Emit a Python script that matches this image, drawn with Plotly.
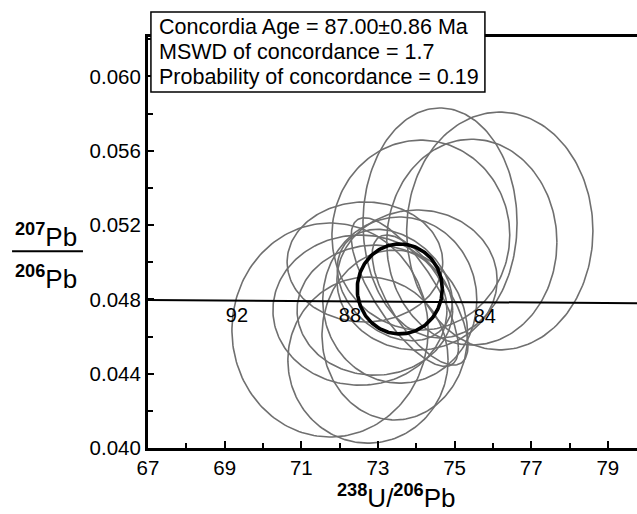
import numpy as np
import plotly.graph_objects as go

# Tera-Wasserburg data: ellipse centres, half-axes and error correlation
ell_x = [76.18, 75.45, 74.62, 74.12, 71.75, 74.02, 72.53, 72.74, 72.66, 72.92,
         73.44, 73.44, 73.70, 74.10, 73.57]
ell_y = [0.05168, 0.05108, 0.05211, 0.05146, 0.04635, 0.04904, 0.04742, 0.04473,
         0.05001, 0.04742, 0.04608, 0.04877, 0.04839, 0.04796, 0.04796]
ell_sx = [2.43, 2.22, 2.01, 2.32, 2.56, 2.09, 2.27, 2.09, 2.03, 2.03,
          1.90, 1.50, 1.40, 1.25, 2.01]
ell_sy = [0.00640, 0.00554, 0.00619, 0.00511, 0.00576, 0.00377, 0.00404, 0.00447,
          0.00323, 0.00350, 0.00457, 0.00300, 0.00400, 0.00350, 0.00447]
ell_rho = [0.0, 0.0, 0.0, 0.0, 0.0, 0.0, 0.0, 0.0, 0.0, 0.0,
           0.0, -0.3, -0.75, -0.7, 0.0]

# Concordia age ellipse
conc_x, conc_y, conc_sx, conc_sy = 73.57, 0.04856, 1.11, 0.00242

# Concordia curve and age labels
curve_x = [67.0, 69.6, 72.7, 76.2, 79.8]
curve_y = [0.04797, 0.04794, 0.04790, 0.04785, 0.04779]
age_labels = ["92", "88", "84"]
age_label_x = [69.32, 72.27, 75.79]
age_label_y = [0.04705, 0.04705, 0.04700]

info_lines = ["Concordia Age = 87.00±0.86 Ma",
              "MSWD of concordance = 1.7",
              "Probability of concordance = 0.19"]

FONT = "Arial, Liberation Sans, sans-serif"
t = np.linspace(0, 2 * np.pi, 200)


def ellipse(cx, cy, sx, sy, rho):
    ex = cx + sx * np.cos(t)
    ey = cy + sy * (rho * np.cos(t) + np.sqrt(1 - rho ** 2) * np.sin(t))
    return ex, ey


fig = go.Figure()
for cx, cy, sx, sy, r in zip(ell_x, ell_y, ell_sx, ell_sy, ell_rho):
    ex, ey = ellipse(cx, cy, sx, sy, r)
    fig.add_trace(go.Scatter(x=ex, y=ey, mode="lines",
                             line=dict(color="#6f6f6f", width=1.6),
                             hoverinfo="skip", showlegend=False))

fig.add_trace(go.Scatter(x=curve_x, y=curve_y, mode="lines",
                         line=dict(color="black", width=2), showlegend=False))

ex, ey = ellipse(conc_x, conc_y, conc_sx, conc_sy, 0.0)
fig.add_trace(go.Scatter(x=ex, y=ey, mode="lines",
                         line=dict(color="black", width=3.6), showlegend=False))

fig.add_trace(go.Scatter(x=age_label_x, y=age_label_y, mode="text", text=age_labels,
                         textfont=dict(family=FONT, size=20, color="black"),
                         showlegend=False))

# Info box
fig.add_shape(type="rect", xref="paper", yref="paper",
              x0=0.006, x1=0.689, y0=0.866, y1=1.061,
              line=dict(color="black", width=1.5), fillcolor="white", layer="above")
for i, s in enumerate(info_lines):
    fig.add_annotation(xref="paper", yref="paper", x=0.0184, y=1.0243 - i * 0.0608,
                       xanchor="left", yanchor="middle", text=s, showarrow=False,
                       font=dict(family=FONT, size=21.5, color="black"))

# Axis titles
fig.add_annotation(xref="paper", yref="paper", x=-0.2086, y=0.517,
                   xanchor="center", yanchor="middle",
                   text="<sup><b>207</b></sup>Pb", showarrow=False,
                   font=dict(family=FONT, size=26, color="black"))
fig.add_annotation(xref="paper", yref="paper", x=-0.2086, y=0.415,
                   xanchor="center", yanchor="middle",
                   text="<sup><b>206</b></sup>Pb", showarrow=False,
                   font=dict(family=FONT, size=26, color="black"))
fig.add_shape(type="line", xref="paper", yref="paper",
              x0=-0.278, x1=-0.133, y0=0.479, y1=0.479,
              line=dict(color="black", width=2))
fig.add_annotation(xref="paper", yref="paper", x=0.509, y=-0.119,
                   xanchor="center", yanchor="middle",
                   text="<sup><b>238</b></sup>U/<sup><b>206</b></sup>Pb", showarrow=False,
                   font=dict(family=FONT, size=26, color="black"))

fig.update_xaxes(range=[67, 79.76], tick0=67, dtick=2, ticks="inside", ticklen=7,
                 tickwidth=2, tickcolor="black", showline=True, linewidth=2.5,
                 linecolor="black", mirror=True, showgrid=False, zeroline=False,
                 tickfont=dict(family=FONT, size=20.5, color="black"),
                 minor=dict(dtick=1, ticks="inside", ticklen=5, tickwidth=2,
                            tickcolor="black", showgrid=False))
fig.update_yaxes(range=[0.040, 0.06212], tick0=0.040, dtick=0.004, tickformat=".3f",
                 ticks="inside", ticklen=6, tickwidth=2, tickcolor="black",
                 showline=True, linewidth=3, linecolor="black", showgrid=False,
                 zeroline=False, tickfont=dict(family=FONT, size=20.5, color="black"),
                 minor=dict(dtick=0.002, ticks="inside", ticklen=5, tickwidth=2,
                            tickcolor="black", showgrid=False))

fig.update_layout(width=637, height=514, margin=dict(l=148, r=0, t=37, b=66),
                  plot_bgcolor="white", paper_bgcolor="white", showlegend=False)

fig.write_html("out.html")
